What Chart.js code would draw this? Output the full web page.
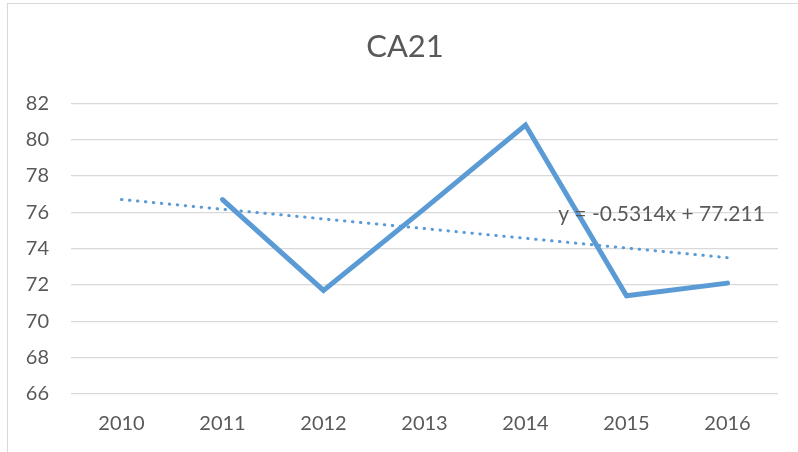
<!DOCTYPE html>
<html>
<head>
<meta charset="utf-8">
<script src="https://cdn.jsdelivr.net/npm/chart.js@4"></script>
<style>
    html, body { margin: 0; padding: 0; background: #fff; }
    #wrap { position: relative; width: 798px; height: 452px; }
    #frame { position: absolute; left: 7px; top: 3px; right: 0; bottom: 0; border-left: 1px solid #d9d9d9; border-top: 1px solid #d9d9d9; }
    canvas { position: absolute; left: 0; top: 0; }
</style>
</head>
<body>
<div id="wrap">
    <div id="frame"></div>
    <canvas id="grafico" width="798" height="452"></canvas>
</div>
<script>
const anos = ["2010", "2011", "2012", "2013", "2014", "2015", "2016"];
const valoresCA21 = [null, 76.7, 71.7, 76.2, 80.8, 71.4, 72.1];
// linha de tendência (pontos extremos)
const tendencia = [76.7, null, null, null, null, null, 73.5];
const equacao = "y = -0.5314x + 77.211";
const escalaY = { min: 66, max: 82, step: 2 };

const cinzaTexto = "#595959";
const fonte = "Lato, 'Open Sans', sans-serif";

// escreve a equação da tendência perto do fim da linha
const rotuloEquacao = {
    id: "rotuloEquacao",
    afterDatasetsDraw(chart) {
        const { ctx, scales } = chart;
        const x = scales.x.getPixelForValue(5) + 35;
        const y = scales.y.getPixelForValue(75.9);
        ctx.save();
        ctx.font = "21px " + fonte;
        ctx.fillStyle = cinzaTexto;
        ctx.textAlign = "center";
        ctx.textBaseline = "middle";
        ctx.fillText(equacao, x, y);
        ctx.restore();
    }
};

const ctx = document.getElementById("grafico").getContext("2d");
new Chart(ctx, {
    type: "line",
    data: {
        labels: anos,
        datasets: [
            {
                label: "CA21",
                data: valoresCA21,
                borderColor: "#5b9bd5",
                borderWidth: 5,
                pointRadius: 0,
                fill: false,
                tension: 0,
                borderJoinStyle: "miter",
                borderCapStyle: "round"
            },
            {
                label: "Linear (CA21)",
                data: tendencia,
                borderColor: "#5b9bd5",
                borderWidth: 3,
                borderDash: [0.5, 7.5],
                borderCapStyle: "round",
                pointRadius: 0,
                spanGaps: true,
                fill: false
            }
        ]
    },
    options: {
        responsive: false,
        animation: false,
        layout: { padding: { top: 20, right: 0, left: 12, bottom: 0 } },
        plugins: {
            legend: { display: false },
            tooltip: { enabled: false },
            title: {
                display: true,
                text: "CA21",
                color: cinzaTexto,
                font: { family: fonte, size: 31, weight: "normal" },
                padding: { top: 8, bottom: 38 }
            }
        },
        scales: {
            x: {
                offset: true,
                grid: { display: false },
                border: { display: false },
                ticks: { color: cinzaTexto, font: { family: fonte, size: 20 }, padding: 10 },
                afterFit(scale) { scale.height = 58; }
            },
            y: {
                min: escalaY.min,
                max: escalaY.max,
                ticks: { stepSize: escalaY.step, color: cinzaTexto, font: { family: fonte, size: 20 }, padding: 22 },
                grid: { color: "#d9d9d9", lineWidth: 1.3, drawTicks: false },
                border: { display: false },
                afterFit(scale) { scale.width = 59; }
            },
            // eixo vazio só para reservar a margem direita
            margem: {
                position: "right",
                min: escalaY.min,
                max: escalaY.max,
                ticks: { display: false },
                grid: { display: false },
                border: { display: false },
                afterFit(scale) { scale.width = 20; }
            }
        }
    },
    plugins: [rotuloEquacao]
});
</script>
</body>
</html>
